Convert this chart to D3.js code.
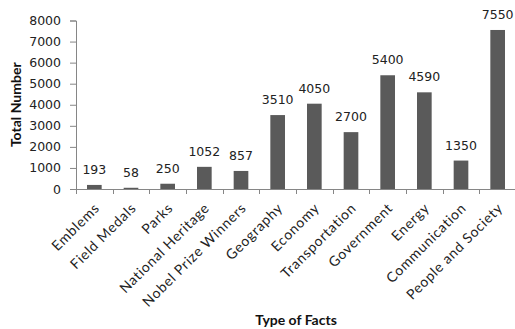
<!DOCTYPE html>
<html>
<head>
<meta charset="utf-8">
<script src="https://cdn.jsdelivr.net/npm/d3@7"></script>
<style>
  body { margin: 0; background: #fff; }
  #chart { width: 515px; height: 329px; }
</style>
</head>
<body>
<div id="chart"></div>
<script>
// Chart data
const categories = ['Emblems', 'Field Medals', 'Parks', 'National Heritage', 'Nobel Prize Winners',
  'Geography', 'Economy', 'Transportation', 'Government', 'Energy', 'Communication', 'People and Society']
const totals = [193, 58, 250, 1052, 857, 3510, 4050, 2700, 5400, 4590, 1350, 7550]
const yTicks = [0, 1000, 2000, 3000, 4000, 5000, 6000, 7000, 8000]

const data = categories.map((c, i) => ({ name: c, value: totals[i] }))

const width = 515
const height = 329
const margin = { top: 20.5, right: -1, bottom: 140, left: 76 }

const svg = d3.select('#chart').append('svg')
  .attr('width', width)
  .attr('height', height)

const xScale = d3.scaleBand()
  .domain(categories)
  .range([margin.left, width - margin.right])
  .paddingInner(0.6)
  .paddingOuter(0.3)

// band boundaries for the category ticks
const step = xScale.step()
const x0 = xScale(categories[0]) - xScale.paddingOuter() * step
const edges = d3.range(categories.length + 1).map(i => x0 + i * step)

const yScale = d3.scaleLinear()
  .domain([0, 8000])
  .range([height - margin.bottom, margin.top])

const numFont = '"DejaVu Sans", Verdana, sans-serif'
const labelFont = 'Lato, "Open Sans", sans-serif'
const axisColor = '#868686'

// Bars
svg.append('g')
  .selectAll('rect')
  .data(data)
  .join('rect')
  .attr('x', d => xScale(d.name))
  .attr('y', d => yScale(d.value))
  .attr('width', xScale.bandwidth())
  .attr('height', d => yScale(0) - yScale(d.value))
  .attr('fill', '#5a5a5a')

// Value labels above the bars
svg.append('g')
  .selectAll('text')
  .data(data)
  .join('text')
  .attr('x', d => xScale(d.name) + xScale.bandwidth() / 2)
  .attr('y', d => yScale(d.value) - 11)
  .attr('text-anchor', 'middle')
  .style('font-family', numFont)
  .style('font-size', '12.5px')
  .style('fill', '#222')
  .text(d => d.value)

// Y axis
const yAxis = svg.append('g')
  .attr('transform', `translate(${margin.left},0)`)
  .call(d3.axisLeft(yScale).tickValues(yTicks).tickSize(6).tickPadding(9).tickFormat(d3.format('d')))
yAxis.select('.domain').attr('stroke', axisColor)
yAxis.selectAll('.tick line').attr('stroke', axisColor)
yAxis.selectAll('.tick text')
  .style('font-family', numFont)
  .style('font-size', '12.5px')
  .style('fill', '#222')

// X axis line and ticks at band edges
const xAxis = svg.append('g')
xAxis.append('line')
  .attr('x1', edges[0])
  .attr('x2', edges[edges.length - 1])
  .attr('y1', yScale(0) + 0.5)
  .attr('y2', yScale(0) + 0.5)
  .attr('stroke', axisColor)
xAxis.selectAll('.edge')
  .data(edges)
  .join('line')
  .attr('class', 'edge')
  .attr('x1', d => Math.round(d) + 0.5)
  .attr('x2', d => Math.round(d) + 0.5)
  .attr('y1', yScale(0))
  .attr('y2', yScale(0) + 5)
  .attr('stroke', axisColor)

// Rotated category labels
xAxis.selectAll('.cat')
  .data(categories)
  .join('text')
  .attr('class', 'cat')
  .attr('transform', d => `translate(${xScale(d) + xScale.bandwidth() / 2 + 6},${yScale(0) + 20}) rotate(-45)`)
  .attr('text-anchor', 'end')
  .style('font-family', labelFont)
  .style('font-size', '14px')
  .style('letter-spacing', '0.7px')
  .style('fill', '#222')
  .text(d => d)

// Axis titles
svg.append('text')
  .attr('transform', `translate(21,${yScale(4000)}) rotate(-90)`)
  .attr('text-anchor', 'middle')
  .style('font-family', labelFont)
  .style('font-weight', 'bold')
  .style('font-size', '14px')
  .style('fill', '#111')
  .text('Total Number')

svg.append('text')
  .attr('x', (edges[0] + edges[edges.length - 1]) / 2)
  .attr('y', 325)
  .attr('text-anchor', 'middle')
  .style('font-family', labelFont)
  .style('font-weight', 'bold')
  .style('font-size', '14px')
  .style('fill', '#111')
  .text('Type of Facts')
</script>
</body>
</html>
